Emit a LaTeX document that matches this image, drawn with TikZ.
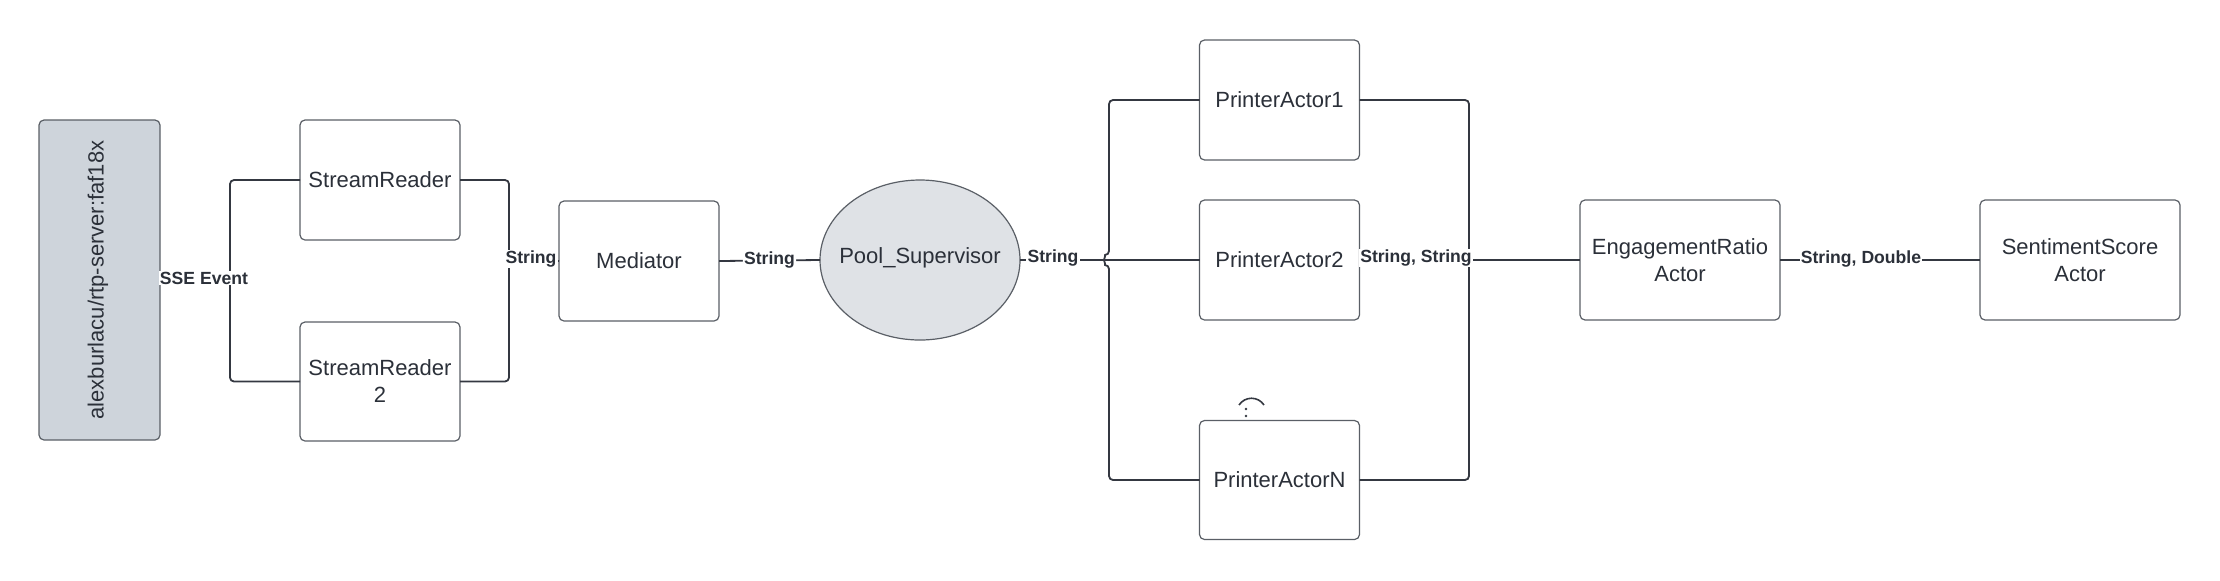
\documentclass[tikz,border=0pt]{standalone}
\usepackage{fontspec}
\setmainfont{Liberation Sans}
\usetikzlibrary{shapes.geometric}
\definecolor{txt}{HTML}{2B3039}
\definecolor{wire}{HTML}{343841}
\definecolor{edge}{HTML}{5A5F66}
\definecolor{srvfill}{HTML}{CED4DB}
\definecolor{poolfill}{HTML}{DFE2E6}
\tikzset{
  box/.style={draw=edge, line width=0.6pt, rounded corners=2.5pt, fill=white,
    minimum width=80pt, minimum height=60pt, inner sep=0pt, outer sep=0pt,
    align=center, text=txt, font=\fontsize{11}{13.5}\selectfont},
  widebox/.style={box, minimum width=100pt},
  conn/.style={draw=wire, line width=0.9pt, rounded corners=2pt},
  lbl/.style={fill=white, inner sep=0.6pt, text=txt, font=\bfseries\fontsize{8.8}{10}\selectfont},
  plain/.style={text=txt, font=\fontsize{11}{13.5}\selectfont, inner sep=0pt}
}
\begin{document}
\begin{tikzpicture}[x=0.5pt,y=-0.5pt]
\useasboundingbox (0,0) rectangle (2220,580);
% nodes
\node[box, fill=srvfill, minimum width=60.5pt, minimum height=160pt] (srv) at (99.5,280) {};
\node[plain, rotate=90] (srvtxt) at (98,280) {alexburlacu/rtp-server:faf18x};
\node[box] (sr1) at (380,180) {StreamReader};
\node[box, minimum height=59.5pt] (sr2) at (380,381.5) {StreamReader\\2};
\node[box] (med) at (639,261) {Mediator};
\node[ellipse, draw=edge, line width=0.6pt, fill=poolfill, minimum width=100pt, minimum height=80pt,
  inner sep=0pt, outer sep=0pt] (pool) at (920,260) {};
\node[plain] (pooltxt) at (920,258) {Pool\_Supervisor};
\node[box] (pa1) at (1279.5,100) {PrinterActor1};
\node[box] (pa2) at (1279.5,260) {PrinterActor2};
\node[box, minimum height=59.5pt] (pan) at (1279.5,480) {PrinterActorN};
\node[widebox] (eng) at (1680,260) {EngagementRatio\\Actor};
\node[widebox] (sent) at (2080,260) {SentimentScore\\Actor};
% helper coordinates
\coordinate (lsplit) at (230,280);
\coordinate (rjoin) at (509,260);
% server -> stream readers
\draw[conn] (srv.east) -- (lsplit);
\draw[conn] (lsplit) |- (sr1.west);
\draw[conn] (lsplit) |- (sr2.west);
\node[lbl] (l1) at (204,278) {SSE Event};
% stream readers -> mediator
\draw[conn] (sr1.east) -| (rjoin);
\draw[conn] (sr2.east) -| (rjoin);
\draw[conn] (rjoin) -- (med.west);
\node[lbl] (l2) at (531,259) {String};
% mediator -> pool
\draw[conn] (med.east) -- (pool.west) node[lbl, midway, yshift=0.5pt] (l3) {String};
% pool -> printers
\draw[conn] (pool.east) -- (pa2.west);
\draw[conn] (pa1.west) -| (1109,255) arc[start angle=-90, end angle=-270, radius=5] |- (pan.west);
\node[lbl] (l4) at (1053,258) {String};
% printers -> engagement
\draw[conn] (pa1.east) -| (1469,480) -- (pan.east);
\draw[conn] (pa2.east) -- (eng.west);
\node[lbl] (l5) at (1416,258) {String, String};
% engagement -> sentiment
\draw[conn] (eng.east) -- (sent.west);
\node[lbl] (l6) at (1861,259) {String, Double};
% ellipsis mark above PrinterActorN
\draw[wire, line width=0.8pt] (1239,405) .. controls (1245,396) and (1258,396) .. (1264,405);
\fill[wire] (1246,409) circle[radius=1.4];
\fill[wire] (1246,416) circle[radius=1.4];
\end{tikzpicture}
\end{document}
